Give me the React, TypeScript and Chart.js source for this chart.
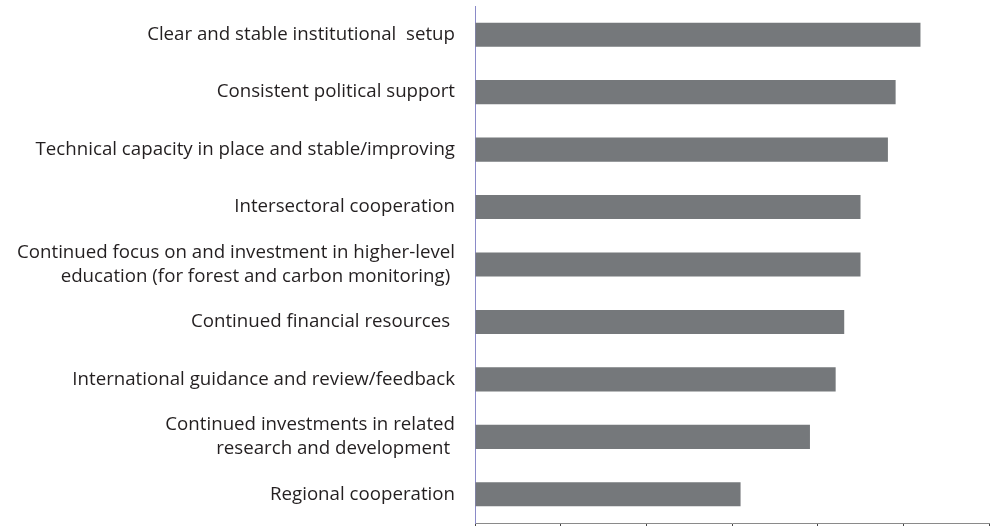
import React, { useEffect, useRef } from "react";
import { Chart, registerables } from "chart.js";

Chart.register(...registerables);

const categories: (string | string[])[] = [
  "Clear and stable institutional  setup",
  "Consistent political support",
  "Technical capacity in place and stable/improving",
  "Intersectoral cooperation",
  ["Continued focus on and investment in higher-level", "education (for forest and carbon monitoring) "],
  "Continued financial resources ",
  "International guidance and review/feedback",
  ["Continued investments in related", "research and development "],
  "Regional cooperation",
];

const values: number[] = [5.2, 4.91, 4.82, 4.5, 4.5, 4.31, 4.21, 3.91, 3.1];

const axisMin = 0;
const axisMax = 6;
const axisStep = 1;

export default function App() {
  const ref = useRef<HTMLCanvasElement | null>(null);

  useEffect(() => {
    if (!ref.current) return;
    const chart = new Chart(ref.current, {
      type: "bar",
      data: {
        labels: categories,
        datasets: [
          {
            data: values,
            backgroundColor: "#75787b",
            borderWidth: 0,
            barPercentage: 0.42,
            categoryPercentage: 1,
          },
        ],
      },
      options: {
        indexAxis: "y",
        animation: false,
        responsive: false,
        layout: { padding: { top: 6, right: 1, bottom: 0, left: 0 } },
        plugins: {
          legend: { display: false },
          tooltip: { enabled: false },
        },
        scales: {
          x: {
            min: axisMin,
            max: axisMax,
            ticks: { display: false, stepSize: axisStep },
            grid: {
              display: true,
              drawOnChartArea: false,
              drawTicks: true,
              tickLength: 4,
              color: "#444444",
            },
            border: { display: true, color: "#8a8a8a", width: 1 },
            afterFit: (scale: any) => {
              scale.height = 3;
              scale.paddingLeft = 0;
              scale.paddingRight = 0;
            },
          },
          y: {
            grid: { display: false, drawTicks: false },
            border: { display: true, color: "#8a8ac8", width: 1 },
            ticks: {
              padding: 20,
              color: "#231f20",
              font: { family: "'Open Sans', sans-serif", size: 18.7, lineHeight: 1.25 },
            },
            afterFit: (scale: any) => {
              scale.width = 475;
              scale.paddingTop = 0;
              scale.paddingBottom = 0;
            },
          },
        },
      },
    });
    return () => chart.destroy();
  }, []);

  return (
    <div style={{ position: "absolute", left: 0, top: 0, width: 990, height: 526, background: "#fff" }}>
      <canvas ref={ref} width={990} height={526} style={{ display: "block" }} />
    </div>
  );
}
